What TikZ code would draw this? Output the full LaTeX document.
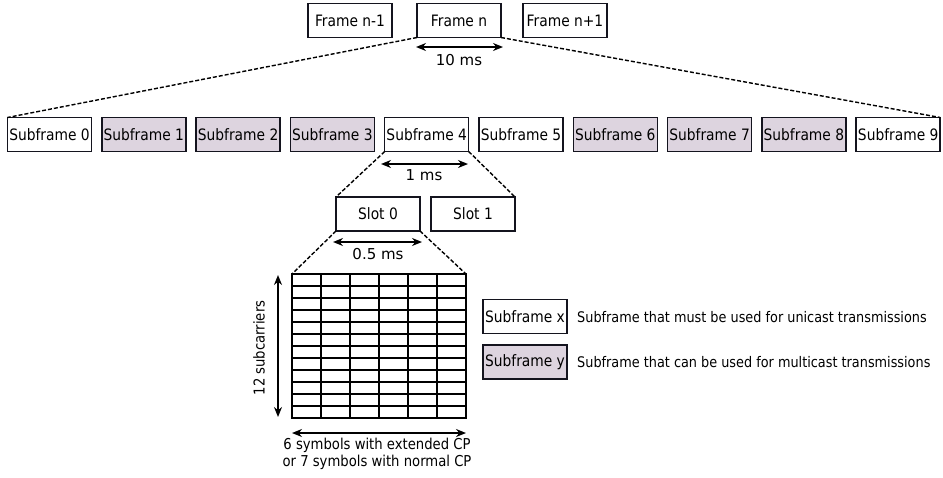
\documentclass[tikz,border=0pt]{standalone}
\usepackage{fontspec}
\setmainfont[FakeStretch=0.88]{DejaVu Sans}
\newfontfamily\plainfont{DejaVu Sans}
\usetikzlibrary{arrows.meta,calc}
\definecolor{mcast}{RGB}{221,212,223}
\definecolor{edge}{RGB}{20,20,30}
\tikzset{
  box/.style={draw=edge, line width=1.5pt, minimum width=84pt, minimum height=34pt, inner sep=0pt, outer sep=0pt, font=\fontsize{15.7}{18}\selectfont, fill=white},
  mbox/.style={box, fill=mcast},
  zoomline/.style={dash pattern=on 4pt off 2pt, line width=1.4pt},
  dimarrow/.style={{Stealth[length=10pt,width=8pt]}-{Stealth[length=10pt,width=8pt]}, line width=1.6pt},
  lbl/.style={font=\fontsize{15}{17}\selectfont, inner sep=0pt},
  dimlbl/.style={font=\plainfont\fontsize{15}{17}\selectfont, inner sep=0pt},
  leg/.style={font=\fontsize{14.6}{17}\selectfont, inner sep=0pt},
}
\begin{document}
\begin{tikzpicture}[x=1pt,y=-1pt]
\useasboundingbox (0,0) rectangle (943,477);
% frames
\node[box] (fprev) at (350,20.5) {Frame n-1};
\node[box] (fn) at (459,20.5) {Frame n};
\node[box] (fnext) at (565,20.5) {Frame n+1};
\coordinate (a1) at (416,47);
\coordinate (a2) at (503,47);
\draw[dimarrow] (a1) -- (a2);
\node[dimlbl] (t10) at (459,60) {10 ms};
% subframes
\foreach \i/\st in {0/box,1/mbox,2/mbox,3/mbox,4/box,5/box,6/mbox,7/mbox,8/mbox,9/box}{
  \node[\st] (sf\i) at ({49.5+94.3*\i},134.5) {Subframe \i};
}
\draw[zoomline] (fn.south west) -- (sf0.north west);
\draw[zoomline] (fn.south east) -- (sf9.north east);
\coordinate (b1) at (381,164);
\coordinate (b2) at (468,164);
\draw[dimarrow] (b1) -- (b2);
\node[dimlbl] (t1) at (424,175) {1 ms};
% slots
\node[box] (s0) at (378,214) {Slot 0};
\node[box] (s1) at (473,214) {Slot 1};
\draw[zoomline] (sf4.south west) -- (s0.north west);
\draw[zoomline] (sf4.south east) -- (s1.north east);
\coordinate (c1) at (333,242);
\coordinate (c2) at (422,242);
\draw[dimarrow] (c1) -- (c2);
\node[dimlbl] (t05) at (378,254) {0.5 ms};
% resource grid
\node[draw, line width=1.8pt, minimum width=174pt, minimum height=144pt, inner sep=0pt, outer sep=0pt] (grid) at (379,346) {};
\foreach \k in {1,...,5}{
  \draw[line width=1.8pt] ($(grid.north west)+(29*\k,0)$) -- ($(grid.south west)+(29*\k,0)$);
}
\foreach \k in {1,...,11}{
  \draw[line width=1.8pt] ($(grid.north west)+(0,12*\k)$) -- ($(grid.north east)+(0,12*\k)$);
}
\draw[zoomline] (s0.south west) -- (grid.north west);
\draw[zoomline] (s0.south east) -- (grid.north east);
\coordinate (v1) at (278,275);
\coordinate (v2) at (278,417);
\draw[dimarrow] (v1) -- (v2);
\node[lbl, rotate=90] (tsub) at (259,348) {12 subcarriers};
\coordinate (h1) at (292,433);
\coordinate (h2) at (466,433);
\draw[dimarrow] (h1) -- (h2);
\node[lbl, align=center] (tsym) at (377,454) {6 symbols with extended CP\\or 7 symbols with normal CP};
% legend
\node[box] (lx) at (525,316.5) {Subframe x};
\node[mbox] (ly) at (525,362) {Subframe y};
\node[leg, anchor=west] (lxt) at (577,317) {Subframe that must be used for unicast transmissions};
\node[leg, anchor=west] (lyt) at (577,362) {Subframe that can be used for multicast transmissions};
\end{tikzpicture}
\end{document}
